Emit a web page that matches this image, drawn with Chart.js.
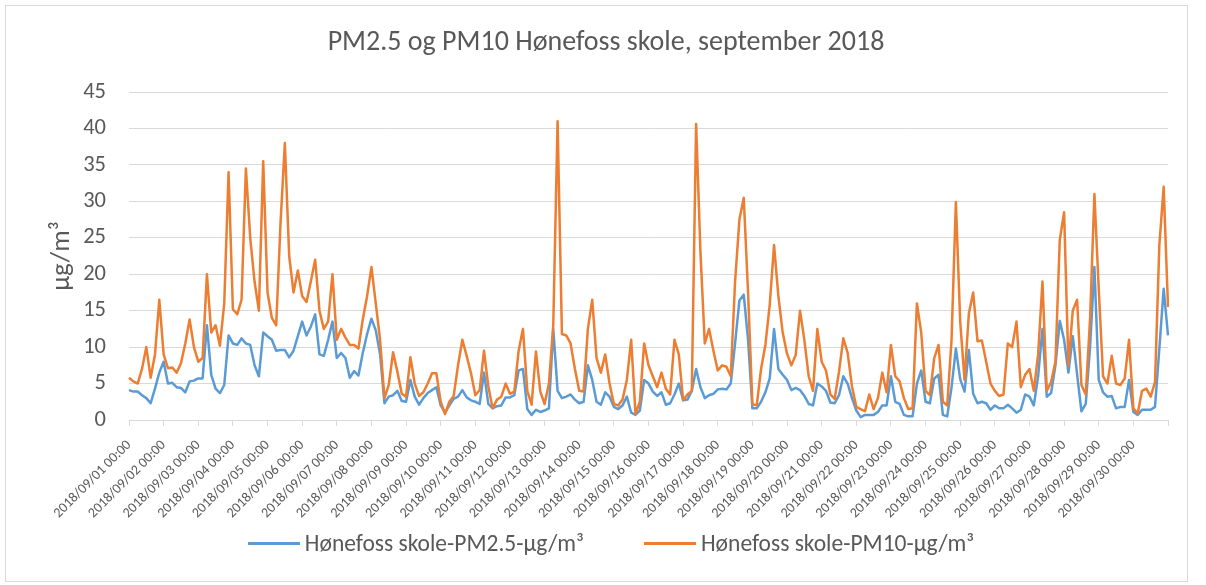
<!DOCTYPE html>
<html>
<head>
<meta charset="utf-8">
<script src="https://cdn.jsdelivr.net/npm/chart.js@4.4.1/dist/chart.umd.min.js"></script>
<style>
  body { margin: 0; background: #fff; font-family: Carlito, Calibri, Lato, sans-serif; }
  .wrap { position: relative; width: 1206px; height: 585px; }
  .frame { position: absolute; left: 5px; top: 5px; width: 1183px; height: 577px; border: 1px solid #d9d9d9; box-sizing: border-box; pointer-events: none; }
  .legend { position: absolute; left: 16px; top: 528px; width: 1190px; height: 30px; display: flex; justify-content: center; align-items: center; gap: 60px; color: #595959; font-size: 23.5px; }
  .legend .item { display: flex; align-items: center; }
  .legend .line { display: inline-block; width: 52px; height: 3px; margin-right: 5px; }
</style>
</head>
<body>
<div class="wrap">
  <canvas id="chart" width="1206" height="585"></canvas>
  <div class="frame"></div>
  <div class="legend" id="legend"></div>
</div>
<script>
const d = document;

// 3-hourly samples, 2018/09/01 00:00 .. 2018/09/30 21:00, plus the last hour
const days = Array.from({ length: 30 }, (_, i) => String(i + 1).padStart(2, '0'));
const hours = ['00', '03', '06', '09', '12', '15', '18', '21'];
const lastLabel = '2018/09/30 23:00';

const pm25 = [
	4.1, 3.9, 3.9, 3.4, 3.0, 2.3, 4.3, 6.5,
	8.0, 5.0, 5.1, 4.5, 4.4, 3.8, 5.3, 5.4,
	5.7, 5.7, 13.0, 6.2, 4.3, 3.7, 4.8, 11.6,
	10.5, 10.3, 11.2, 10.5, 10.3, 7.5, 6.0, 12.0,
	11.5, 11.0, 9.5, 9.6, 9.6, 8.6, 9.5, 11.5,
	13.5, 11.6, 12.8, 14.5, 9.0, 8.8, 11.0, 13.5,
	8.5, 9.2, 8.5, 5.8, 6.7, 6.1, 9.2, 11.8,
	13.9, 12.3, 9.0, 2.3, 3.2, 3.4, 4.0, 2.6,
	2.5, 5.5, 3.2, 2.1, 3.0, 3.7, 4.1, 4.5,
	2.0, 1.0, 2.0, 2.9, 3.2, 4.1, 3.1, 2.7,
	2.5, 2.2, 6.5, 2.2, 1.6, 1.9, 2.0, 3.1,
	3.1, 3.4, 6.8, 7.0, 1.5, 0.7, 1.4, 1.1,
	1.3, 1.6, 12.5, 4.0, 3.0, 3.2, 3.5, 2.8,
	2.3, 2.5, 7.5, 5.5, 2.5, 2.1, 3.8, 3.2,
	1.8, 1.5, 2.0, 3.2, 1.0, 0.7, 1.3, 5.5,
	5.0, 3.9, 3.3, 3.8, 2.1, 2.3, 3.5, 5.0,
	2.7, 2.8, 4.0, 7.0, 4.5, 3.0, 3.4, 3.6,
	4.2, 4.3, 4.2, 5.0, 10.5, 16.4, 17.2, 11.0,
	1.6, 1.6, 2.5, 3.8, 5.7, 12.5, 7.0, 6.2,
	5.5, 4.1, 4.4, 4.1, 3.3, 2.2, 2.0, 5.0,
	4.6, 4.0, 2.4, 2.3, 3.4, 6.0, 5.0, 3.0,
	1.3, 0.4, 0.7, 0.7, 0.7, 1.1, 2.0, 2.0,
	6.0, 2.5, 2.2, 0.7, 0.5, 0.5, 5.0, 6.8,
	2.5, 2.3, 5.7, 6.2, 0.7, 0.5, 4.5, 9.8,
	5.6, 3.9, 9.6, 3.6, 2.3, 2.5, 2.3, 1.4,
	2.0, 1.6, 1.6, 2.1, 1.6, 1.0, 1.4, 3.5,
	3.2, 2.0, 6.0, 12.5, 3.2, 3.7, 7.5, 13.6,
	11.0, 6.5, 11.5, 6.3, 1.2, 2.2, 10.0, 21.0,
	5.5, 3.8, 3.2, 3.3, 1.6, 1.8, 1.8, 5.5,
	1.1, 0.7, 1.4, 1.4, 1.4, 1.8, 9.8, 18.0,
	11.6,
];

const pm10 = [
	5.8, 5.3, 5.0, 7.0, 10.0, 5.8, 9.0, 16.5,
	9.0, 7.1, 7.2, 6.5, 7.8, 10.5, 13.8, 10.0,
	8.0, 8.5, 20.0, 12.0, 13.0, 10.2, 16.0, 34.0,
	15.2, 14.5, 16.5, 34.5, 25.0, 19.0, 15.0, 35.5,
	17.5, 14.0, 13.0, 27.0, 38.0, 22.5, 17.5, 20.5,
	17.0, 16.2, 19.0, 22.0, 15.0, 12.5, 13.5, 20.0,
	11.0, 12.5, 11.3, 10.3, 10.3, 9.8, 13.8, 17.0,
	21.0, 16.0, 11.0, 3.0, 4.8, 9.3, 6.6, 3.6,
	3.2, 8.6, 5.0, 3.3, 3.8, 5.0, 6.4, 6.4,
	2.5, 0.8, 2.5, 3.3, 7.5, 11.0, 8.8, 6.4,
	3.4, 4.1, 9.5, 4.6, 1.6, 2.8, 3.2, 5.0,
	3.6, 3.9, 9.5, 12.5, 4.0, 2.1, 9.4, 3.9,
	2.2, 5.0, 13.0, 41.0, 11.8, 11.6, 10.5, 7.0,
	4.0, 3.9, 12.5, 16.5, 8.5, 6.5, 9.0, 5.0,
	2.2, 2.0, 2.8, 5.5, 11.0, 0.8, 2.5, 10.5,
	7.5, 6.0, 4.5, 6.5, 4.3, 3.5, 11.0, 9.0,
	2.7, 3.5, 4.0, 40.6, 23.0, 10.5, 12.5, 9.5,
	6.8, 7.5, 7.3, 6.0, 19.0, 27.5, 30.5, 17.5,
	2.2, 2.0, 7.0, 10.3, 15.8, 24.0, 17.0, 12.0,
	9.1, 7.5, 8.9, 15.0, 11.0, 6.0, 4.0, 12.5,
	8.0, 6.8, 3.5, 2.9, 6.6, 11.2, 9.2, 4.6,
	1.8, 1.5, 1.2, 3.5, 1.5, 3.0, 6.5, 3.8,
	10.3, 6.0, 5.3, 3.0, 1.5, 1.6, 16.0, 12.0,
	4.0, 3.4, 8.5, 10.3, 2.5, 2.0, 11.0, 29.9,
	13.5, 5.5, 14.6, 17.5, 10.8, 10.9, 8.0, 5.0,
	4.0, 3.3, 3.5, 10.5, 10.0, 13.5, 4.5, 6.2,
	7.0, 4.0, 9.0, 19.0, 4.0, 5.2, 8.0, 24.7,
	28.5, 7.5, 15.0, 16.5, 4.8, 3.5, 13.9, 31.0,
	18.0, 6.0, 5.0, 8.8, 5.0, 4.8, 5.7, 11.0,
	1.6, 0.9, 4.0, 4.3, 3.2, 5.2, 24.0, 32.0,
	15.5,
];

const yTicks = [0, 5, 10, 15, 20, 25, 30, 35, 40, 45];

const labels = [];
days.forEach((day) => hours.forEach((h) => labels.push(`2018/09/${day} ${h}:00`)));
labels.push(lastLabel);

const textColor = '#595959',
	gridColor = '#d9d9d9',
	fontFamily = 'Carlito, Calibri, Lato, sans-serif';

const data = {
	labels,
	datasets: [
		{
			label: 'Hønefoss skole-PM2.5-µg/m³',
			data: pm25,
			borderColor: '#5b9bd5',
			backgroundColor: '#5b9bd5',
			borderWidth: 2.5,
			pointRadius: 0,
			tension: 0,
			borderJoinStyle: 'round',
			order: 1,
		},
		{
			label: 'Hønefoss skole-PM10-µg/m³',
			data: pm10,
			borderColor: '#ed7d31',
			backgroundColor: '#ed7d31',
			borderWidth: 2.5,
			pointRadius: 0,
			tension: 0,
			borderJoinStyle: 'round',
			order: 0,
		},
	],
};

const config = {
	type: 'line',
	data,
	options: {
		responsive: false,
		animation: false,
		layout: {
			padding: { left: 6, right: 0, top: 0, bottom: 65 },
		},
		plugins: {
			legend: { display: false },
			tooltip: { enabled: false },
			title: {
				display: true,
				text: 'PM2.5 og PM10 Hønefoss skole, september 2018',
				color: textColor,
				font: { family: fontFamily, size: 28, weight: 'normal' },
				padding: { top: 26.2, bottom: 32.2 },
			},
		},
		scales: {
			x: {
				type: 'category',
				offset: false,
				afterFit: (scale) => {
					scale.height = 100;
				},
				grid: {
					drawOnChartArea: false,
					drawTicks: true,
					tickLength: 6,
					color: gridColor,
				},
				border: { display: true, color: gridColor },
				ticks: {
					autoSkip: false,
					minRotation: 45,
					maxRotation: 45,
					padding: 11,
					color: textColor,
					font: { family: fontFamily, size: 14 },
					callback: function (value, index) {
						if (index === labels.length - 1) return '';
						const l = this.getLabelForValue(value);
						return l.endsWith(' 00:00') ? l : null;
					},
				},
			},
			y: {
				min: 0,
				max: 45,
				afterFit: (scale) => {
					scale.width = 123;
				},
				afterBuildTicks: (scale) => {
					scale.ticks = yTicks.map((v) => ({ value: v }));
				},
				grid: { color: gridColor, drawTicks: false },
				border: { display: false },
				ticks: {
					padding: 23,
					color: textColor,
					font: { family: fontFamily, size: 22.5 },
				},
				title: {
					display: true,
					text: 'µg/m³',
					color: textColor,
					font: { family: fontFamily, size: 27 },
					padding: { top: 40, bottom: 0 },
				},
			},
			// empty right strip, keeps the plot off the right edge
			yRight: {
				position: 'right',
				grid: { display: false },
				border: { display: false },
				ticks: { display: false },
				afterFit: (scale) => {
					scale.width = 38;
				},
			},
		},
	},
};

const chart = new Chart(d.getElementById('chart'), config);

// legend drawn as html from the chart datasets
const $legend = d.getElementById('legend');
chart.data.datasets.forEach((ds) => {
	const $item = d.createElement('span');
	$item.className = 'item';
	$item.innerHTML = `<span class="line" style="background:${ds.borderColor}"></span><span>${ds.label}</span>`;
	$legend.appendChild($item);
});
</script>
</body>
</html>
